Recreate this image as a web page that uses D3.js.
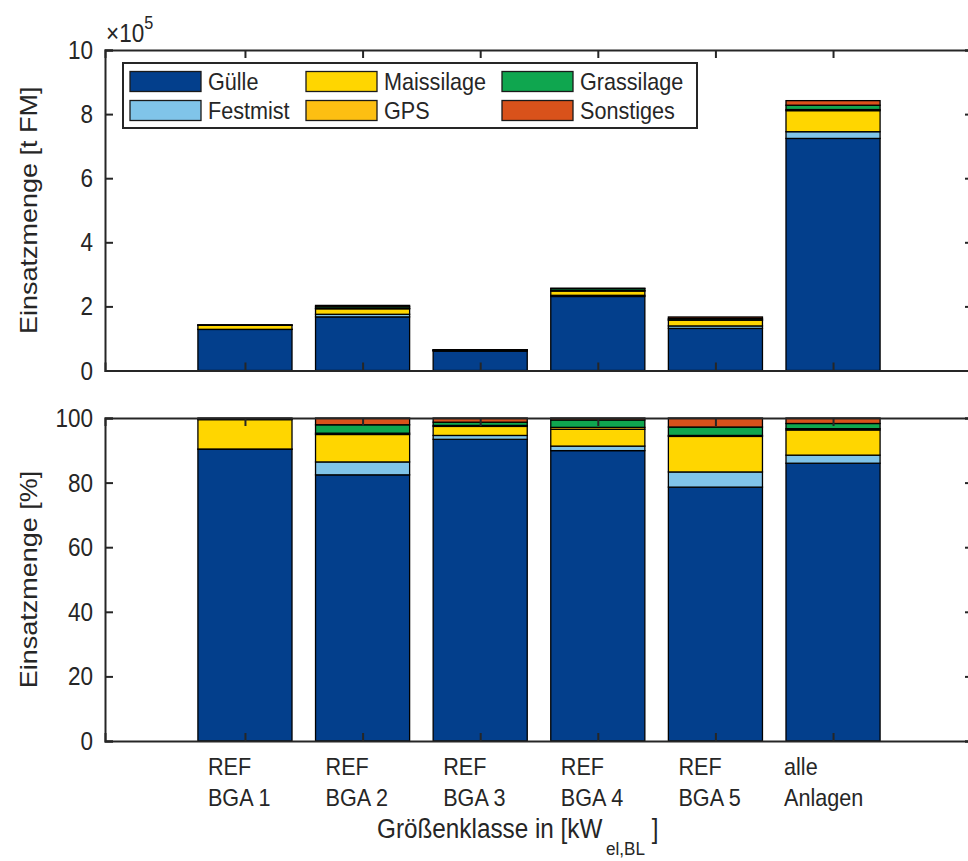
<!DOCTYPE html>
<html>
<head>
<meta charset="utf-8">
<script src="https://cdn.jsdelivr.net/npm/d3@7"></script>
<style>
  body { margin: 0; background: #fff; }
  text { font-family: "Liberation Sans", Arial, sans-serif; fill: #262626; }
</style>
</head>
<body>
<svg id="chart" width="968" height="861"></svg>
<script>
// data
var categories = [["REF", "BGA 1"], ["REF", "BGA 2"], ["REF", "BGA 3"],
                  ["REF", "BGA 4"], ["REF", "BGA 5"], ["alle", "Anlagen"]];
var keys = ["Gülle", "Festmist", "Maissilage", "GPS", "Grassilage", "Sonstiges"];

// Einsatzmenge [t FM]
var guelleAbs   = [128200, 167300, 60700, 231000, 131300, 724100];
var festmistAbs = [200, 8100, 800, 3600, 7800, 21000];
var maisAbs     = [12900, 17300, 1800, 13400, 18400, 65700];
var gpsAbs      = [200, 800, 200, 1500, 500, 3400];
var grasAbs     = [300, 5300, 650, 5900, 4300, 13500];
var sonstAbs    = [300, 4300, 850, 1500, 4700, 14300];

// Einsatzmenge [%]
var guellePct   = [90.3, 82.4, 93.4, 89.9, 78.6, 86.0];
var festmistPct = [0.1, 4.0, 1.2, 1.4, 4.7, 2.5];
var maisPct     = [9.1, 8.5, 2.8, 5.2, 11.0, 7.8];
var gpsPct      = [0.1, 0.4, 0.3, 0.6, 0.3, 0.4];
var grasPct     = [0.2, 2.6, 1.0, 2.3, 2.6, 1.6];
var sonstPct    = [0.2, 2.1, 1.3, 0.6, 2.8, 1.7];

var topTicks = [0, 2e5, 4e5, 6e5, 8e5, 10e5];
var botTicks = [0, 20, 40, 60, 80, 100];

var colors = ["#033f8c", "#80c4e9", "#ffd600", "#fdbf12", "#0fa64f", "#d9521b"];

function rows(series) {
    return categories.map(function(c, i) {
        var r = {idx: i + 1};
        keys.forEach(function(k, j) { r[k] = series[j][i]; });
        return r;
    });
}
var absRows = rows([guelleAbs, festmistAbs, maisAbs, gpsAbs, grasAbs, sonstAbs]);
var pctRows = rows([guellePct, festmistPct, maisPct, gpsPct, grasPct, sonstPct]);

var svg = d3.select("#chart");
var axisColor = "#262626";
var sq = 0.9; // glyphs in the original are a bit narrow

// horizontal text, slightly condensed
function label(parent, x, y, size, anchor) {
    return parent.append("text")
        .attr("transform", `translate(${x},${y}) scale(${sq},1)`)
        .attr("text-anchor", anchor || "start")
        .style("font-size", size + "px");
}

var x = d3.scaleLinear().domain([-0.19, 7.19]).range([105, 973]);
var barW = x(0.8) - x(0);
var z = d3.scaleOrdinal().domain(keys).range(colors);

var yTop = d3.scaleLinear().domain([0, 1e6]).range([370.5, 50]);
var yBot = d3.scaleLinear().domain([0, 100]).range([741, 418]);

function panel(data, y, ticks, fmt) {
    var g = svg.append("g");
    var stacked = d3.stack().keys(keys)(data);

    g.selectAll("g.layer")
        .data(stacked)
        .enter().append("g")
        .attr("class", "layer")
        .attr("fill", d => z(d.key))
        .selectAll("rect")
        .data(d => d)
        .enter().append("rect")
        .attr("x", d => x(d.data.idx) - barW / 2)
        .attr("width", barW)
        .attr("y", d => y(d[1]))
        .attr("height", d => y(d[0]) - y(d[1]))
        .attr("stroke", "#000")
        .attr("stroke-width", 1.3);

    var y0 = y.range()[0], y1 = y.range()[1];
    var x0 = x.range()[0], x1 = x.range()[1];
    var tl = 8;

    // box with inward ticks
    var left = g.append("g")
        .attr("transform", `translate(${x0},0)`)
        .call(d3.axisRight(y).tickValues(ticks).tickSize(tl).tickFormat(""));
    var right = g.append("g")
        .attr("transform", `translate(${x1},0)`)
        .call(d3.axisLeft(y).tickValues(ticks).tickSize(tl).tickFormat(""));
    var bottom = g.append("g")
        .attr("transform", `translate(0,${y0})`)
        .call(d3.axisTop(x).tickValues(d3.range(1, 7)).tickSize(tl).tickFormat(""));
    var top = g.append("g")
        .attr("transform", `translate(0,${y1})`)
        .call(d3.axisBottom(x).tickValues(d3.range(1, 7)).tickSize(tl).tickFormat(""));

    [left, right, bottom, top].forEach(function(a) {
        a.selectAll("path, line").attr("stroke", axisColor).attr("stroke-width", 2);
    });

    ticks.forEach(function(t) {
        label(g, x0 - 12, y(t), 25, "end")
            .attr("dy", "0.36em")
            .text(fmt(t));
    });
    return g;
}

panel(absRows, yTop, topTicks, d => d / 1e5);
panel(pctRows, yBot, botTicks, d => d);

// exponent label
var ex = label(svg, 106, 42, 25);
ex.append("tspan").text("×10");
ex.append("tspan").attr("dy", -13).style("font-size", "18px").text("5");

// y labels
svg.append("text")
    .attr("transform", `translate(37,${(yTop(0) + yTop(1e6)) / 2}) rotate(-90) scale(1,${sq})`)
    .attr("text-anchor", "middle")
    .style("font-size", "27px")
    .text("Einsatzmenge [t FM]");

svg.append("text")
    .attr("transform", `translate(37,${(yBot(0) + yBot(100)) / 2}) rotate(-90) scale(1,${sq})`)
    .attr("text-anchor", "middle")
    .style("font-size", "27px")
    .text("Einsatzmenge [%]");

// category labels (two lines, left aligned block)
categories.forEach(function(c, i) {
    var cx = x(i + 1) - (c[0] === "alle" ? 49 : 37);
    label(svg, cx, 775, 24).text(c[0]);
    label(svg, cx, 806, 24).text(c[1]);
});

// x label
var xl = label(svg, 377, 838, 27);
xl.append("tspan").text("Größenklasse in [kW");
xl.append("tspan").attr("dx", 4).attr("dy", 17).style("font-size", "19px").text("el,BL");
xl.append("tspan").attr("dy", -17).text(" ]");

// legend
var lg = svg.append("g");
lg.append("rect")
    .attr("x", 123).attr("y", 63)
    .attr("width", 574).attr("height", 65)
    .attr("fill", "#fff")
    .attr("stroke", axisColor)
    .attr("stroke-width", 2);

var colX = [130, 306, 502];
var rowY = [71.5, 100.5];
var item = lg.selectAll(".legend")
    .data(keys)
    .enter().append("g")
    .attr("class", "legend")
    .attr("transform", (d, i) => `translate(${colX[Math.floor(i / 2)]},${rowY[i % 2]})`);

item.append("rect")
    .attr("width", 71)
    .attr("height", 20)
    .attr("fill", d => z(d))
    .attr("stroke", "#1a1a1a")
    .attr("stroke-width", 1.3);

item.each(function(d) {
    label(d3.select(this), 78, 10, 24).attr("dy", "0.36em").text(d);
});
</script>
</body>
</html>
